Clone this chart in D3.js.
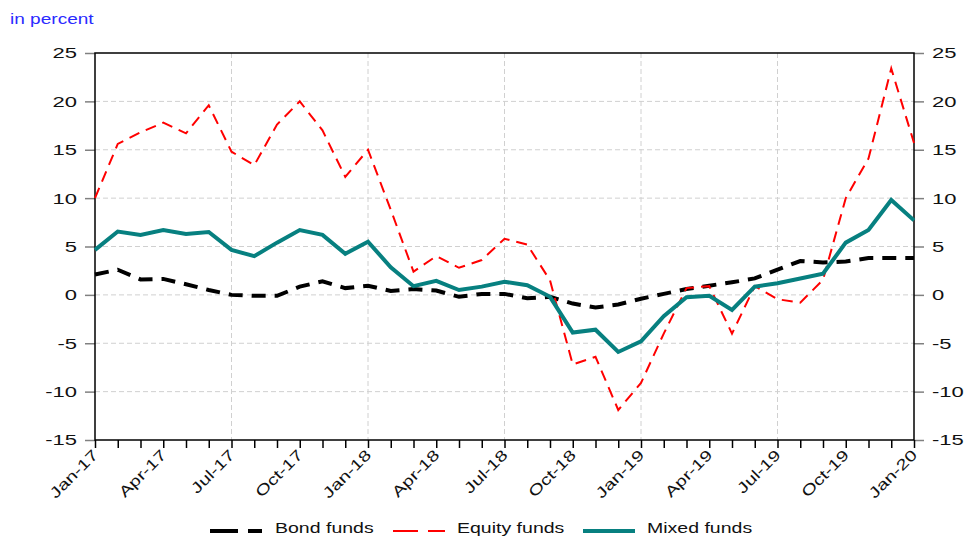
<!DOCTYPE html>
<html><head><meta charset="utf-8">
<script src="https://cdn.jsdelivr.net/npm/d3@7/dist/d3.min.js"></script>
<style>body{margin:0;background:#fff;} svg{display:block;font-family:"Liberation Sans",Arial,sans-serif;}</style>
</head><body>
<script>
const months = ["Jan-17","Feb-17","Mar-17","Apr-17","May-17","Jun-17","Jul-17","Aug-17","Sep-17","Oct-17","Nov-17","Dec-17",
"Jan-18","Feb-18","Mar-18","Apr-18","May-18","Jun-18","Jul-18","Aug-18","Sep-18","Oct-18","Nov-18","Dec-18",
"Jan-19","Feb-19","Mar-19","Apr-19","May-19","Jun-19","Jul-19","Aug-19","Sep-19","Oct-19","Nov-19","Dec-19","Jan-20"];
const bond = [2.1,2.6,1.6,1.65,1.1,0.5,0.0,-0.1,-0.1,0.85,1.4,0.7,0.95,0.4,0.6,0.45,-0.2,0.1,0.1,-0.35,-0.2,-0.9,-1.3,-1.0,-0.4,0.1,0.6,0.95,1.3,1.7,2.6,3.5,3.35,3.45,3.8,3.8,3.8];
const equity = [10.0,15.6,16.8,17.8,16.7,19.6,14.8,13.4,17.6,20.0,17.0,12.2,15.0,8.8,2.4,4.0,2.8,3.6,5.8,5.2,1.5,-7.2,-6.4,-11.9,-9.1,-4.0,0.7,0.9,-4.0,0.9,-0.45,-0.8,1.55,10.0,14.1,23.4,15.7];
const mixed = [4.65,6.55,6.2,6.7,6.3,6.5,4.65,4.0,5.4,6.7,6.2,4.25,5.5,2.85,0.9,1.45,0.5,0.85,1.35,1.0,-0.2,-3.9,-3.6,-5.9,-4.8,-2.2,-0.25,-0.1,-1.55,0.85,1.2,1.7,2.2,5.4,6.7,9.8,7.7];
const yTicks = [-15,-10,-5,0,5,10,15,20,25];
const xLabelIdx = [0,3,6,9,12,15,18,21,24,27,30,33,36];
const xGridIdx = [6,12,18,24,30];
const seriesNames = ["Bond funds","Equity funds","Mixed funds"];

const W=965,H=537, L=95, R=914, T=53, B=440;
const svg = d3.select("body").append("svg").attr("width",W).attr("height",H);
const x = d3.scaleLinear().domain([0,months.length-1]).range([L,R]);
const y = d3.scaleLinear().domain([-15,25]).range([B,T]);

function stretch(sel, f){
  sel.each(function(){
    const len = this.getComputedTextLength();
    d3.select(this).attr("textLength", len*f).attr("lengthAdjust","spacingAndGlyphs");
  });
}

// grid
const g = svg.append("g");
g.selectAll("line.hg").data(yTicks.filter(v=>v>-15&&v<25)).join("line")
  .attr("x1",L).attr("x2",R).attr("y1",d=>y(d)).attr("y2",d=>y(d))
  .attr("stroke","#d0d0d0").attr("stroke-width",1).attr("stroke-dasharray","5,3");
g.selectAll("line.vg").data(xGridIdx).join("line")
  .attr("x1",d=>x(d)).attr("x2",d=>x(d)).attr("y1",T).attr("y2",B)
  .attr("stroke","#d0d0d0").attr("stroke-width",1).attr("stroke-dasharray","5,3");

// axes
const fmt = d=>String(d);
const la = svg.append("g").attr("transform",`translate(${L},0)`)
  .call(d3.axisLeft(y).tickValues(yTicks).tickSize(10).tickPadding(8).tickFormat(fmt));
const ra = svg.append("g").attr("transform",`translate(${R},0)`)
  .call(d3.axisRight(y).tickValues(yTicks).tickSize(10).tickPadding(8).tickFormat(fmt));
[la,ra].forEach(a=>{
  a.select(".domain").remove();
  a.selectAll(".tick line").attr("stroke","#808080").attr("stroke-width",1.5);
  a.selectAll("text").attr("font-size",15.5).attr("fill","#111").attr("font-family","Liberation Sans, Arial, sans-serif");
  stretch(a.selectAll("text"),1.42);
});
const ba = svg.append("g").attr("transform",`translate(0,${B})`)
  .call(d3.axisBottom(x).tickValues(d3.range(months.length)).tickSize(8).tickFormat(""));
ba.select(".domain").remove();
ba.selectAll(".tick line").attr("stroke","#000").attr("stroke-width",1.5);
const xl = svg.append("g").selectAll("text").data(xLabelIdx).join("text")
  .attr("transform",d=>`translate(${x(d)+4},${B+16}) rotate(-45)`)
  .attr("text-anchor","end").attr("font-size",15).attr("fill","#111")
  .text(d=>months[d]);
stretch(xl,1.33);

// frame
svg.append("rect").attr("x",L).attr("y",T).attr("width",R-L).attr("height",B-T)
  .attr("fill","none").attr("stroke","#000").attr("stroke-width",1.5);

// lines
const line = d3.line().x((d,i)=>x(i)).y(d=>y(d));
const styles = [
  {data:bond,color:"#000",w:4,dash:"14,9"},
  {data:equity,color:"#ff0000",w:2,dash:"11,7"},
  {data:mixed,color:"#078080",w:4,dash:null}
];
styles.forEach(s=>{
  const p = svg.append("path").attr("d",line(s.data)).attr("fill","none")
    .attr("stroke",s.color).attr("stroke-width",s.w).attr("stroke-linejoin","miter");
  if(s.dash) p.attr("stroke-dasharray",s.dash);
});

// title
const tt = svg.append("text").attr("x",10).attr("y",24).attr("font-size",15).attr("fill","#2a2aff").text("in percent");
stretch(tt,1.27);

// legend
const legX = [210,393,583], legTX=[275,457,647], legY=531;
styles.forEach((s,i)=>{
  const p = svg.append("line").attr("x1",legX[i]).attr("x2",legX[i]+52).attr("y1",legY).attr("y2",legY)
    .attr("stroke",s.color).attr("stroke-width",s.w);
  if(s.dash) p.attr("stroke-dasharray", i===0 ? "28,10,14,100" : "25,10,17,100");
  const t = svg.append("text").attr("x",legTX[i]).attr("y",533).attr("font-size",15).attr("fill","#111").text(seriesNames[i]);
  stretch(t,1.3);
});
</script>
</body></html>
